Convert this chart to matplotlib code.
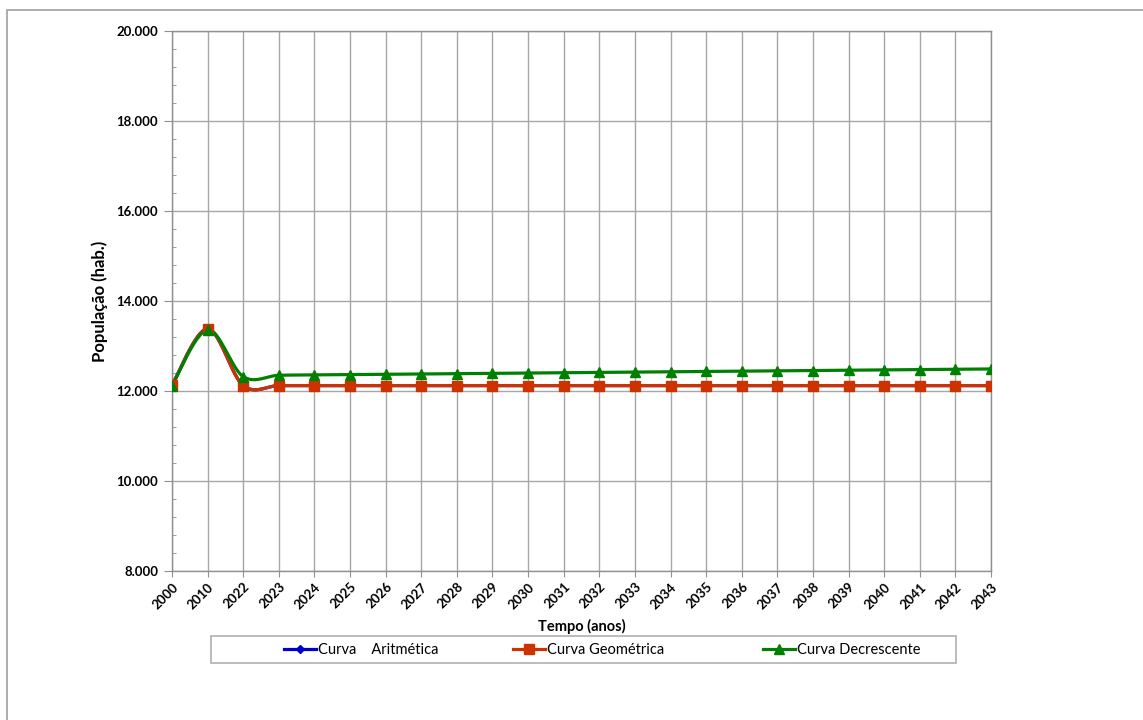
import numpy as np
import matplotlib.pyplot as plt
from matplotlib.ticker import MultipleLocator, FuncFormatter
from matplotlib.patches import Rectangle

plt.rcParams['font.family'] = ['Lato', 'DejaVu Sans']

anos = ['2000', '2010', '2022', '2023', '2024', '2025', '2026', '2027', '2028',
        '2029', '2030', '2031', '2032', '2033', '2034', '2035', '2036', '2037',
        '2038', '2039', '2040', '2041', '2042', '2043']

aritmetica = [12130, 13380, 12120, 12120, 12120, 12120, 12120, 12120, 12120,
              12120, 12120, 12120, 12120, 12120, 12120, 12120, 12120, 12120,
              12120, 12120, 12120, 12120, 12120, 12120]
geometrica = [12130, 13380, 12120, 12120, 12120, 12120, 12120, 12120, 12120,
              12120, 12120, 12120, 12120, 12120, 12120, 12120, 12120, 12120,
              12120, 12120, 12120, 12120, 12120, 12120]
decrescente = [12120, 13360, 12320, 12350, 12357, 12364, 12371, 12378, 12385,
               12392, 12399, 12406, 12413, 12420, 12427, 12434, 12441, 12448,
               12455, 12462, 12469, 12476, 12483, 12490]


def suave(y, n=30):
    # curva suavizada tipo Excel (bezier com tangentes catmull-rom)
    y = np.asarray(y, float)
    x = np.arange(len(y), dtype=float)
    px = np.concatenate([[x[0]], x, [x[-1]]])
    py = np.concatenate([[y[0]], y, [y[-1]]])
    t = np.linspace(0, 1, n)
    xs, ys = [], []
    for i in range(len(y) - 1):
        p0 = np.array([px[i], py[i]])
        p1 = np.array([px[i + 1], py[i + 1]])
        p2 = np.array([px[i + 2], py[i + 2]])
        p3 = np.array([px[i + 3], py[i + 3]])
        b1 = p1 + (p2 - p0) / 6
        b2 = p2 - (p3 - p1) / 6
        c = ((1 - t) ** 3)[:, None] * p1 + (3 * (1 - t) ** 2 * t)[:, None] * b1 \
            + (3 * (1 - t) * t ** 2)[:, None] * b2 + (t ** 3)[:, None] * p2
        xs.append(c[:, 0])
        ys.append(c[:, 1])
    return np.concatenate(xs), np.concatenate(ys)


fig = plt.figure(figsize=(11.43, 7.2), dpi=100)
ax = fig.add_axes([172 / 1143, 1 - 571 / 720, (991 - 172) / 1143, (571 - 31) / 720])

x = np.arange(len(anos))
series = [
    (aritmetica, '#0000CC', 'D', 5.5, 'Curva    Aritmética'),
    (geometrica, '#CC3300', 's', 7.5, 'Curva Geométrica'),
    (decrescente, '#008000', '^', 7.5, 'Curva Decrescente'),
]
handles = []
for vals, cor, mk, ms, nome in series:
    sx, sy = suave(vals)
    ax.plot(sx, sy, color=cor, lw=2.3, zorder=3)
    ax.plot(x, vals, ls='none', marker=mk, color=cor, ms=ms, zorder=4)
    h, = ax.plot([], [], color=cor, lw=2.3, marker=mk, ms=ms - 1, label=nome)
    handles.append(h)

ax.set_xlim(0, len(anos) - 1)
ax.set_ylim(8000, 20000)
ax.set_xticks(x)
ax.set_xticklabels(anos, rotation=45, ha='right', rotation_mode='anchor',
                   fontsize=9.5, fontweight='bold')
ax.yaxis.set_major_locator(MultipleLocator(2000))
ax.yaxis.set_minor_locator(MultipleLocator(400))
ax.yaxis.set_major_formatter(FuncFormatter(lambda v, p: f'{v:,.0f}'.replace(',', '.')))
for lab in ax.get_yticklabels():
    lab.set_fontweight('bold')
    lab.set_fontsize(9.5)
ax.tick_params(axis='y', which='major', direction='out', length=6, color='#909090', pad=4)
ax.tick_params(axis='y', which='minor', direction='in', length=3, color='#909090')
ax.tick_params(axis='x', which='major', direction='out', length=4, color='#909090', pad=3)

ax.grid(True, which='major', color='#A6A6A6', lw=1)
ax.set_axisbelow(True)
for s in ax.spines.values():
    s.set_color('#909090')
    s.set_linewidth(1)

ax.set_xlabel('Tempo (anos)', fontsize=10.5, fontweight='bold', labelpad=6)
ax.set_ylabel('População (hab.)', fontsize=12, fontweight='bold', labelpad=6)

# borda externa do gráfico
fig.patches.append(Rectangle((7 / 1143, -0.1), 1.2, 1 - 10 / 720 + 0.1,
                             transform=fig.transFigure, fill=False,
                             ec='#A0A0A0', lw=1.2))
# moldura da legenda
fig.patches.append(Rectangle((211 / 1143, 1 - 663 / 720), 745 / 1143, 27 / 720,
                             transform=fig.transFigure, fill=False,
                             ec='#B0B0B0', lw=1.2))
for h, xpos in zip(handles, [284, 513, 763]):
    fig.legend(handles=[h], loc='center left',
               bbox_to_anchor=(xpos / 1143, 1 - 650 / 720),
               frameon=False, fontsize=10.5, handlelength=2.2, handletextpad=0.1,
               borderpad=0, borderaxespad=0)

fig.savefig('out.png', dpi=100)
